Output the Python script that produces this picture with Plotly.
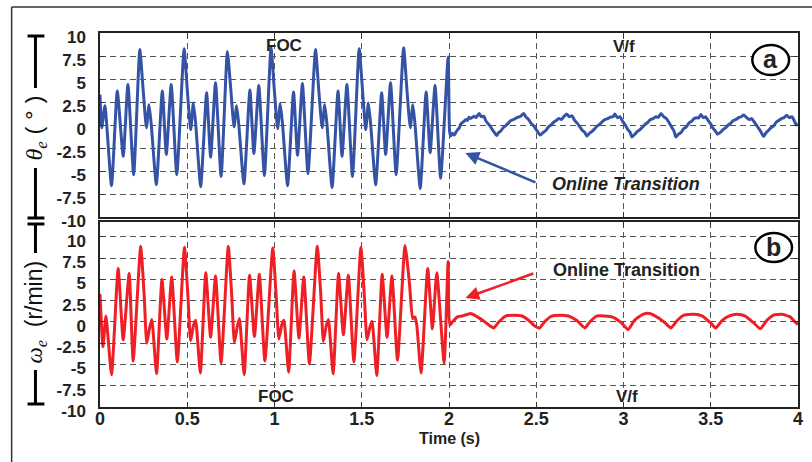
import plotly.graph_objects as go

# ---------------- data ----------------
theta_t = [0.000, 0.010, 0.028, 0.066, 0.099, 0.133, 0.160, 0.193,
           0.228, 0.247, 0.266, 0.281, 0.294, 0.323, 0.357, 0.380, 0.408, 0.440,
           0.482, 0.501, 0.520, 0.535, 0.548, 0.577, 0.611, 0.634, 0.662, 0.694,
           0.730, 0.749, 0.768, 0.783, 0.796, 0.825, 0.859, 0.882, 0.910, 0.942,
           0.980, 0.999, 1.018, 1.033, 1.046, 1.075, 1.109, 1.132, 1.160, 1.192,
           1.235, 1.254, 1.273, 1.288, 1.301, 1.330, 1.364, 1.387, 1.415, 1.447,
           1.485, 1.504, 1.523, 1.538, 1.551, 1.580, 1.614, 1.637, 1.665, 1.697,
           1.740, 1.759, 1.778, 1.793, 1.806, 1.835, 1.869, 1.892, 1.920, 1.952,
           1.995, 2.003,
           2.010, 2.020, 2.030, 2.039, 2.050, 2.060, 2.067, 2.080, 2.096, 2.105,
           2.115, 2.125, 2.143, 2.155, 2.172, 2.185, 2.200, 2.210, 2.219, 2.235,
           2.248, 2.260, 2.273, 2.285, 2.295, 2.310, 2.324, 2.340, 2.352, 2.370,
           2.390, 2.410, 2.428, 2.440, 2.456, 2.470, 2.485, 2.500, 2.523,
           2.540, 2.555, 2.570, 2.585, 2.600, 2.615, 2.630, 2.645, 2.660, 2.673,
           2.690, 2.705, 2.720, 2.735, 2.750, 2.765, 2.778, 2.790,
           2.805, 2.820, 2.835, 2.850, 2.865, 2.880, 2.895, 2.910, 2.925, 2.940, 2.950,
           2.965, 2.980, 2.995, 3.010, 3.025, 3.038, 3.048,
           3.065, 3.080, 3.095, 3.110, 3.125, 3.140, 3.155, 3.170, 3.185, 3.200, 3.215,
           3.230, 3.245, 3.260, 3.275, 3.290, 3.300,
           3.315, 3.330, 3.345, 3.360, 3.375, 3.390, 3.405, 3.420, 3.430, 3.443,
           3.458, 3.470, 3.485, 3.500, 3.515, 3.528, 3.538,
           3.555, 3.570, 3.585, 3.600, 3.615, 3.630, 3.645, 3.660, 3.675, 3.690,
           3.705, 3.720, 3.735, 3.750, 3.765, 3.780, 3.792, 3.803,
           3.815, 3.830, 3.845, 3.860, 3.875, 3.890, 3.905, 3.920, 3.935,
           3.950, 3.965, 3.980, 3.990, 4.000]
theta_v = [3.3, -0.3, 2.1, -6.6, 3.7, -3.4, 4.4, -5.4,
           8.2, 3.9, -0.3, 2.2, 0.0, -6.5, 3.7, -3.2, 4.4, -5.4,
           8.3, 3.6, -0.5, 2.4, 0.2, -6.7, 3.5, -3.5, 4.6, -5.6,
           8.0, 4.0, -0.2, 2.1, -0.1, -6.4, 3.8, -3.1, 4.3, -5.5,
           8.4, 3.8, -0.4, 2.3, 0.1, -6.6, 3.6, -3.3, 4.5, -5.3,
           8.2, 3.7, -0.3, 2.2, 0.0, -6.8, 3.7, -3.4, 4.4, -5.6,
           8.3, 3.9, -0.5, 2.4, 0.1, -6.5, 3.5, -3.2, 4.6, -5.4,
           8.4, 3.8, -0.3, 2.2, -0.1, -6.9, 3.6, -3.0, 4.3, -5.8,
           7.4, -0.6,
           -1.2, -0.9, -1.1, -0.8, -0.5, -0.3, 0.1, 0.3, 0.6, 0.5,
           0.85, 0.7, 0.95, 0.8, 1.25, 0.9, 0.95, 0.5, 0.25, -0.1,
           -0.5, -0.8, -1.15, -0.8, -0.7, -0.3, -0.1, 0.2, 0.45, 0.6,
           0.8, 0.95, 1.25, 0.9, 0.6, 0.2, -0.1, -0.5, -1.1,
           -0.8, -0.6, -0.2, 0.0, 0.3, 0.5, 0.7, 0.6, 0.95, 1.2,
           0.9, 1.0, 0.5, 0.2, -0.2, -0.6, -0.8, -1.2,
           -0.9, -0.7, -0.4, -0.1, 0.1, 0.4, 0.6, 0.7, 0.85, 0.9, 1.2,
           0.8, 0.9, 0.4, 0.0, -0.5, -0.8, -1.3,
           -1.0, -0.7, -0.5, -0.2, 0.1, 0.3, 0.6, 0.7, 0.9, 0.85, 1.25,
           0.9, 0.7, 0.3, -0.2, -0.7, -1.3,
           -1.0, -0.8, -0.4, -0.2, 0.2, 0.4, 0.7, 0.8, 0.75, 1.15,
           0.8, 0.9, 0.5, 0.1, -0.4, -0.7, -1.0,
           -0.8, -0.5, -0.3, 0.0, 0.2, 0.5, 0.6, 0.8, 0.9, 1.1,
           0.8, 0.6, 0.7, 0.3, -0.1, -0.5, -0.9, -1.25,
           -0.9, -0.6, -0.3, -0.1, 0.3, 0.5, 0.7, 0.8, 1.05,
           0.8, 0.9, 0.4, 0.0, 0.1]

omega_t = [0.000, 0.017, 0.034, 0.066, 0.104, 0.133, 0.167, 0.190,
           0.233, 0.253, 0.268, 0.285, 0.297, 0.324, 0.355, 0.383, 0.411, 0.443,
           0.484, 0.504, 0.519, 0.536, 0.548, 0.575, 0.606, 0.634, 0.662, 0.694,
           0.735, 0.755, 0.770, 0.787, 0.799, 0.826, 0.857, 0.885, 0.913, 0.945,
           0.990, 1.010, 1.025, 1.042, 1.054, 1.081, 1.112, 1.140, 1.168, 1.200,
           1.245, 1.265, 1.280, 1.297, 1.309, 1.336, 1.367, 1.395, 1.423, 1.455,
           1.495, 1.515, 1.530, 1.547, 1.559, 1.586, 1.617, 1.645, 1.673, 1.705,
           1.748, 1.774, 1.792, 1.805, 1.815, 1.840, 1.878, 1.905, 1.930, 1.972,
           1.995, 2.004,
           2.020, 2.048, 2.077, 2.124, 2.162, 2.200, 2.238, 2.257, 2.285, 2.324,
           2.371, 2.418, 2.456, 2.494, 2.519, 2.551, 2.589, 2.636, 2.684, 2.731,
           2.779, 2.807, 2.845, 2.893, 2.940, 2.988, 3.026, 3.063, 3.111, 3.149,
           3.206, 3.243, 3.271, 3.309, 3.347, 3.404, 3.452, 3.499, 3.528, 3.566,
           3.604, 3.651, 3.698, 3.746, 3.784, 3.822, 3.860, 3.907, 3.955, 3.983,
           4.000]
omega_v = [3.3, -2.9, 0.7, -6.2, 6.3, -2.1, 5.7, -4.6,
           8.9, 3.2, -2.5, -0.6, 0.3, -6.1, 5.0, -2.0, 5.3, -4.7,
           8.8, 3.0, -2.2, -0.4, 0.2, -6.0, 5.8, -1.8, 5.4, -4.8,
           8.9, 3.1, -2.4, -0.5, 0.4, -6.2, 5.5, -1.7, 5.6, -4.6,
           8.7, 2.9, -2.0, -0.3, 0.2, -5.9, 6.0, -1.9, 5.3, -4.9,
           8.9, 3.3, -2.3, -0.4, 0.3, -6.1, 5.7, -1.5, 5.5, -4.7,
           8.8, 3.0, -2.1, -0.6, 0.1, -6.3, 5.6, -1.8, 5.4, -4.5,
           9.0, 4.4, 0.4, 0.6, -0.3, -6.0, 6.3, -0.8, 5.8, -4.8,
           7.1, -0.4,
           0.0, 0.6, 0.7, 1.0, 0.6, 0.1, -0.5, -0.7, 0.0, 0.7,
           0.8, 0.7, 0.2, -0.5, -0.7, 0.1, 0.7, 0.8, 0.7, 0.2,
           -0.7, 0.0, 0.7, 0.7, 0.55, -0.1, -0.9, 0.2, 0.9, 1.0,
           0.4, -0.2, -0.7, 0.2, 0.8, 0.9, 0.7, -0.1, -0.7, 0.2,
           0.7, 0.9, 0.7, -0.1, -0.8, 0.2, 0.8, 0.9, 0.6, 0.0,
           -0.3]

x_ticks = [0, 0.5, 1, 1.5, 2, 2.5, 3, 3.5, 4]
x_tick_text = ["0", "0.5", "1", "1.5", "2", "2.5", "3", "3.5", "4"]
y_ticks = [-10, -7.5, -5, -2.5, 0, 2.5, 5, 7.5, 10]
y_tick_text = ["-10", "-7.5", "-5", "-2.5", "0", "2.5", "5", "7.5", "10"]

BLUE = "#3553a5"
RED = "#ee2026"
TXT = "#222222"
FONT = "Liberation Sans, Arial, sans-serif"

# ---------------- geometry helpers (screen pixels -> paper) ----------------
W, H = 812, 462
L, R, T, B = 100, 9, 33, 55
PW, PH = W - L - R, H - T - B


def px(xp):
    return (xp - L) / PW


def py(yp):
    return (H - B - yp) / PH


fig = go.Figure()
fig.add_trace(go.Scatter(x=theta_t, y=theta_v, mode="lines", xaxis="x", yaxis="y",
                         line=dict(color=BLUE, width=3, shape="spline", smoothing=0.5),
                         showlegend=False, hoverinfo="skip"))
fig.add_trace(go.Scatter(x=omega_t, y=omega_v, mode="lines", xaxis="x2", yaxis="y2",
                         line=dict(color=RED, width=3, shape="spline", smoothing=0.5),
                         showlegend=False, hoverinfo="skip"))

axis_common = dict(showline=True, linecolor="#222", linewidth=1.5, mirror="ticks",
                   showgrid=True, gridcolor="#555", griddash="6px,4px", gridwidth=1,
                   zeroline=False, ticks="inside", ticklen=5, tickcolor="#333",
                   tickwidth=1.2,
                   tickfont=dict(family=FONT, size=17, color=TXT, weight="bold"))

fig.update_layout(
    width=W, height=H,
    margin=dict(l=L, r=R, t=T, b=B),
    paper_bgcolor="white", plot_bgcolor="white",
    xaxis=dict(domain=[0, 1], anchor="y", range=[0, 4], tickvals=x_ticks,
               showticklabels=False, **axis_common),
    yaxis=dict(domain=[py(217), 1], anchor="x", range=[-10, 10], tickvals=y_ticks,
               ticktext=y_tick_text, ticklabelstandoff=9, ticklabelshift=4,
               **axis_common),
    xaxis2=dict(domain=[0, 1], anchor="y2", range=[0, 4], tickvals=x_ticks,
                ticktext=x_tick_text, ticklabelstandoff=-5, **axis_common),
    yaxis2=dict(domain=[0, py(222)], anchor="x2", range=[-10, 11.76], tickvals=y_ticks,
                ticktext=y_tick_text, ticklabelstandoff=9, ticklabelshift=4,
                **axis_common),
)
fig.update_xaxes(tickfont_size=18, selector=dict(anchor="y2"))

shapes = []
# outer frame (left and top)
shapes.append(dict(type="line", xref="paper", yref="paper", x0=px(11), x1=px(11),
                   y0=py(7), y1=py(475), line=dict(color="#333", width=1.5)))
shapes.append(dict(type="line", xref="paper", yref="paper", x0=px(11), x1=px(830),
                   y0=py(7), y1=py(7), line=dict(color="#333", width=1.5)))
# dimension bars beside the axis titles
bars = [(36, 88, 36), (168, 218, 218), (224, 253, 224), (370, 404, 404)]
for y0, y1, cap in bars:
    shapes.append(dict(type="line", xref="paper", yref="paper", x0=px(35), x1=px(35),
                       y0=py(y0), y1=py(y1), line=dict(color="black", width=3)))
    shapes.append(dict(type="line", xref="paper", yref="paper", x0=px(27), x1=px(44),
                       y0=py(cap), y1=py(cap), line=dict(color="black", width=3)))
# circled panel letters
shapes.append(dict(type="circle", xref="paper", yref="paper", x0=px(757), x1=px(794),
                   y0=py(75), y1=py(45), fillcolor="white",
                   line=dict(color="black", width=2.5), layer="above"))
shapes.append(dict(type="circle", xref="paper", yref="paper", x0=px(760), x1=px(797),
                   y0=py(262), y1=py(233), fillcolor="white",
                   line=dict(color="black", width=2.5), layer="above"))
fig.update_layout(shapes=shapes)

ann = []


def label(text, xp, yp, size=17, angle=0, italic=False, color=TXT, bold=True):
    ann.append(dict(text=text, xref="paper", yref="paper", x=px(xp), y=py(yp),
                    xanchor="center", yanchor="middle", showarrow=False, textangle=angle,
                    font=dict(family=FONT, size=size, color=color,
                              weight="bold" if bold else "normal",
                              style="italic" if italic else "normal")))


label("FOC", 285, 45)
label("V/f", 628, 46)
label("FOC", 277, 396)
label("V/f", 631, 396)
label("a", 775.5, 59, size=25)
label("b", 778.5, 247, size=25)
label("Online Transition", 630, 184, size=18, italic=True)
label("Online Transition", 630, 270, size=18)
label("Time (s)", 452, 438, size=16)

ann.append(dict(text=("<span style='font-family:Liberation Serif'><i>θ</i><sub><i>e</i></sub></span>"
                      " ( ° )"),
                xref="paper", yref="paper", x=px(35), y=py(128), textangle=-90,
                showarrow=False, xanchor="center", yanchor="middle",
                font=dict(family=FONT, size=24, color="#111")))
ann.append(dict(text=("<span style='font-family:Liberation Serif'><i>ω</i><sub><i>e</i></sub></span>"
                      "  (r/min)"),
                xref="paper", yref="paper", x=px(35), y=py(312), textangle=-90,
                showarrow=False, xanchor="center", yanchor="middle",
                font=dict(family=FONT, size=23, color="#111")))

# arrows
ann.append(dict(text="", x=2.094, y=-3.04, xref="x", yref="y", ax=2.504, ay=-6.3,
                axref="x", ayref="y", showarrow=True, arrowhead=2, arrowsize=1.1,
                arrowwidth=2.5, arrowcolor=BLUE))
ann.append(dict(text="", x=2.094, y=2.82, xref="x2", yref="y2", ax=2.492, ay=5.76,
                axref="x2", ayref="y2", showarrow=True, arrowhead=2, arrowsize=1.1,
                arrowwidth=2.5, arrowcolor=RED))
fig.update_layout(annotations=ann)

fig.write_html("out.html")
